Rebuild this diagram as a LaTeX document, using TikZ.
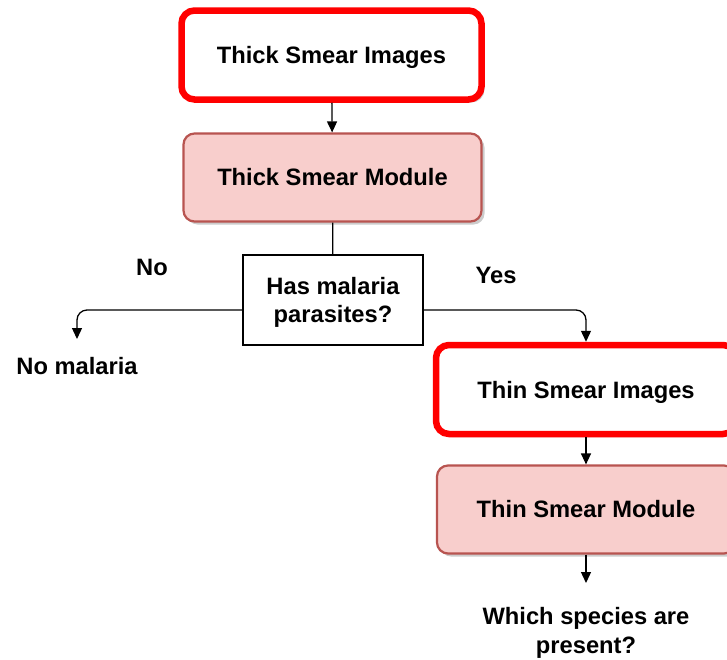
\documentclass[tikz,border=0pt]{standalone}
\usepackage{fontspec}
\setmainfont{Liberation Sans}
\usetikzlibrary{arrows.meta,shadows}
\definecolor{modfill}{HTML}{F8CECC}
\definecolor{modline}{HTML}{B85450}
\begin{document}
\begin{tikzpicture}[x=1pt,y=-1pt,
  font=\fontsize{23.7}{28.5}\selectfont\bfseries,
  boxshadow/.style={drop shadow={shadow xshift=3pt,shadow yshift=-3pt,fill=black,opacity=0.2}},
  imgbox/.style={draw=red,line width=6.5pt,fill=white,rounded corners=13pt,
    minimum width=300pt,minimum height=89pt,text depth=-3pt,boxshadow},
  modbox/.style={draw=modline,fill=modfill,line width=2.2pt,rounded corners=11pt,
    minimum width=298pt,minimum height=88pt,boxshadow},
  askbox/.style={draw,line width=1.2pt,fill=white,minimum width=180pt,minimum height=90pt,
    align=center,text depth=-3pt},
  flow/.style={line width=1.3pt,-{Triangle[width=10pt,length=11pt]}}
]
  \useasboundingbox[fill=white] (0,0) rectangle (727,659);
  \clip (0,0) rectangle (727,659);

  % upper branch: thick smear
  \node[imgbox] (thickimg) at (331.5,55) {Thick Smear Images};
  \node[modbox] (thickmod) at (332.5,177.5) {Thick Smear Module};
  \node[askbox] (ask) at (333,300) {Has malaria\\parasites?};

  % answers
  \node (nolab) at (152,267) {No};
  \node (yeslab) at (496,275) {Yes};
  \node (nomal) at (77,366) {No malaria};
  \coordinate (noend) at (77,339);

  % lower branch: thin smear
  \node[imgbox] (thinimg) at (586,389.5) {Thin Smear Images};
  \node[modbox] (thinmod) at (586,509.5) {Thin Smear Module};
  \node[align=center] (species) at (586,633) {Which species are\\present?};
  \coordinate (specend) at (586,583);

  % connectors
  \draw[flow] (thickimg) -- (thickmod);
  \draw[line width=1.3pt] (thickmod) -- (ask);
  \draw[flow,rounded corners=10pt] ([yshift=-10pt]ask.west) -| (noend);
  \draw[flow,rounded corners=10pt] ([yshift=-10pt]ask.east) -| (thinimg.north);
  \draw[flow] (thinimg) -- (thinmod);
  \draw[flow] (thinmod) -- (specend);
\end{tikzpicture}
\end{document}
